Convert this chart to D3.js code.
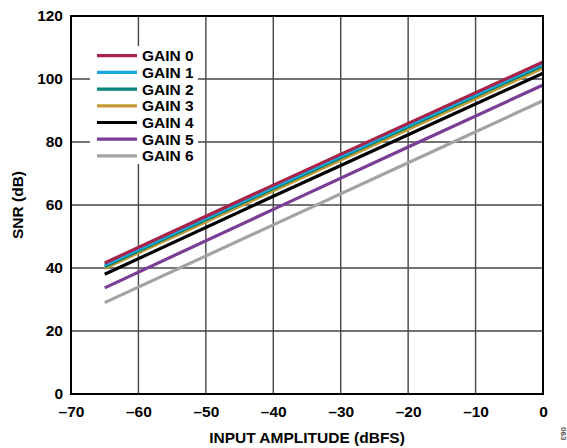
<!DOCTYPE html>
<html><head><meta charset="utf-8">
<script src="https://cdn.jsdelivr.net/npm/d3@7/dist/d3.min.js"></script>
<style>body{margin:0;background:#fff}svg{display:block}text{font-family:"Liberation Sans",Arial,sans-serif;font-weight:bold}</style>
</head><body>
<script>
const inputAmplitude = [-65, -40, -20, 0];
const seriesNames = ["GAIN 0","GAIN 1","GAIN 2","GAIN 3","GAIN 4","GAIN 5","GAIN 6"];
const gain0 = [41.6, 66.3, 85.9, 105.4];
const gain1 = [41.0, 65.7, 85.3, 104.8];
const gain2 = [40.5, 65.2, 84.8, 104.3];
const gain3 = [39.9, 64.5, 84.0, 103.5];
const gain4 = [38.0, 62.8, 82.3, 101.8];
const gain5 = [33.7, 58.6, 78.4, 98.1];
const gain6 = [29.0, 53.7, 73.4, 93.1];
const seriesValues = [gain0, gain1, gain2, gain3, gain4, gain5, gain6];
const colors = ["#a8234a","#16a9df","#00857a","#c39a34","#000000","#7a3d96","#a3a3a3"];
const xTicks = [-70,-60,-50,-40,-30,-20,-10,0];
const yTicks = [0,20,40,60,80,100,120];

const W=567,H=448;
const m={l:71,r:24,t:16,b:54};
const svg=d3.select("body").append("svg").attr("width",W).attr("height",H);
const x=d3.scaleLinear().domain([-70,0]).range([m.l,W-m.r]);
const y=d3.scaleLinear().domain([0,120]).range([H-m.b,m.t]);

// grid
const g=svg.append("g");
g.selectAll(".vx").data(xTicks).join("line").attr("x1",d=>x(d)).attr("x2",d=>x(d)).attr("y1",y(0)).attr("y2",y(120)).attr("stroke","#444").attr("stroke-width",1.4);
g.selectAll(".hy").data(yTicks).join("line").attr("y1",d=>y(d)).attr("y2",d=>y(d)).attr("x1",x(-70)).attr("x2",x(0)).attr("stroke","#444").attr("stroke-width",1.4);

// legend background
svg.append("rect").attr("x",90).attr("y",46).attr("width",108).attr("height",118).attr("fill","#fff");

// lines
const line=d3.line().x((d,i)=>x(inputAmplitude[i])).y(d=>y(d));
for(let k=seriesValues.length-1;k>=0;k--){
  svg.append("path").attr("d",line(seriesValues[k])).attr("fill","none").attr("stroke",colors[k]).attr("stroke-width",3.2);
}

// frame
svg.append("rect").attr("x",x(-70)).attr("y",y(120)).attr("width",x(0)-x(-70)).attr("height",y(0)-y(120)).attr("fill","none").attr("stroke","#000").attr("stroke-width",2);

// axes labels via d3 axes
const xa=svg.append("g").attr("transform",`translate(0,${y(0)})`).call(d3.axisBottom(x).tickValues(xTicks).tickSize(0).tickPadding(12).tickFormat(d=>d<0?"\u2013"+Math.abs(d):d));
xa.select(".domain").remove();
xa.selectAll("text").attr("font-size",15.5).attr("font-family","Liberation Sans, Arial, sans-serif").attr("font-weight","bold").attr("fill","#000");
const ya=svg.append("g").attr("transform",`translate(${x(-70)},0)`).call(d3.axisLeft(y).tickValues(yTicks).tickSize(0).tickPadding(8));
ya.select(".domain").remove();
ya.selectAll("text").attr("font-size",15.5).attr("font-family","Liberation Sans, Arial, sans-serif").attr("font-weight","bold").attr("fill","#000");

svg.append("text").attr("x",307).attr("y",443).attr("text-anchor","middle").attr("font-size",15.5).text("INPUT AMPLITUDE (dBFS)");
svg.append("text").attr("transform",`translate(23,${(y(0)+y(120))/2}) rotate(-90)`).attr("text-anchor","middle").attr("font-size",15.5).text("SNR (dB)");
svg.append("text").attr("transform","translate(561,427) rotate(90)").attr("font-size",8).attr("font-weight","normal").attr("fill","#555").text("063");

// legend
const lg=svg.append("g");
seriesNames.forEach((n,i)=>{
  const yy=55.7+i*16.7;
  lg.append("line").attr("x1",97).attr("x2",137).attr("y1",yy).attr("y2",yy).attr("stroke",colors[i]).attr("stroke-width",3.2);
  lg.append("text").attr("x",142).attr("y",yy+5.5).attr("font-size",15.5).text(n);
});
</script>
</body></html>
